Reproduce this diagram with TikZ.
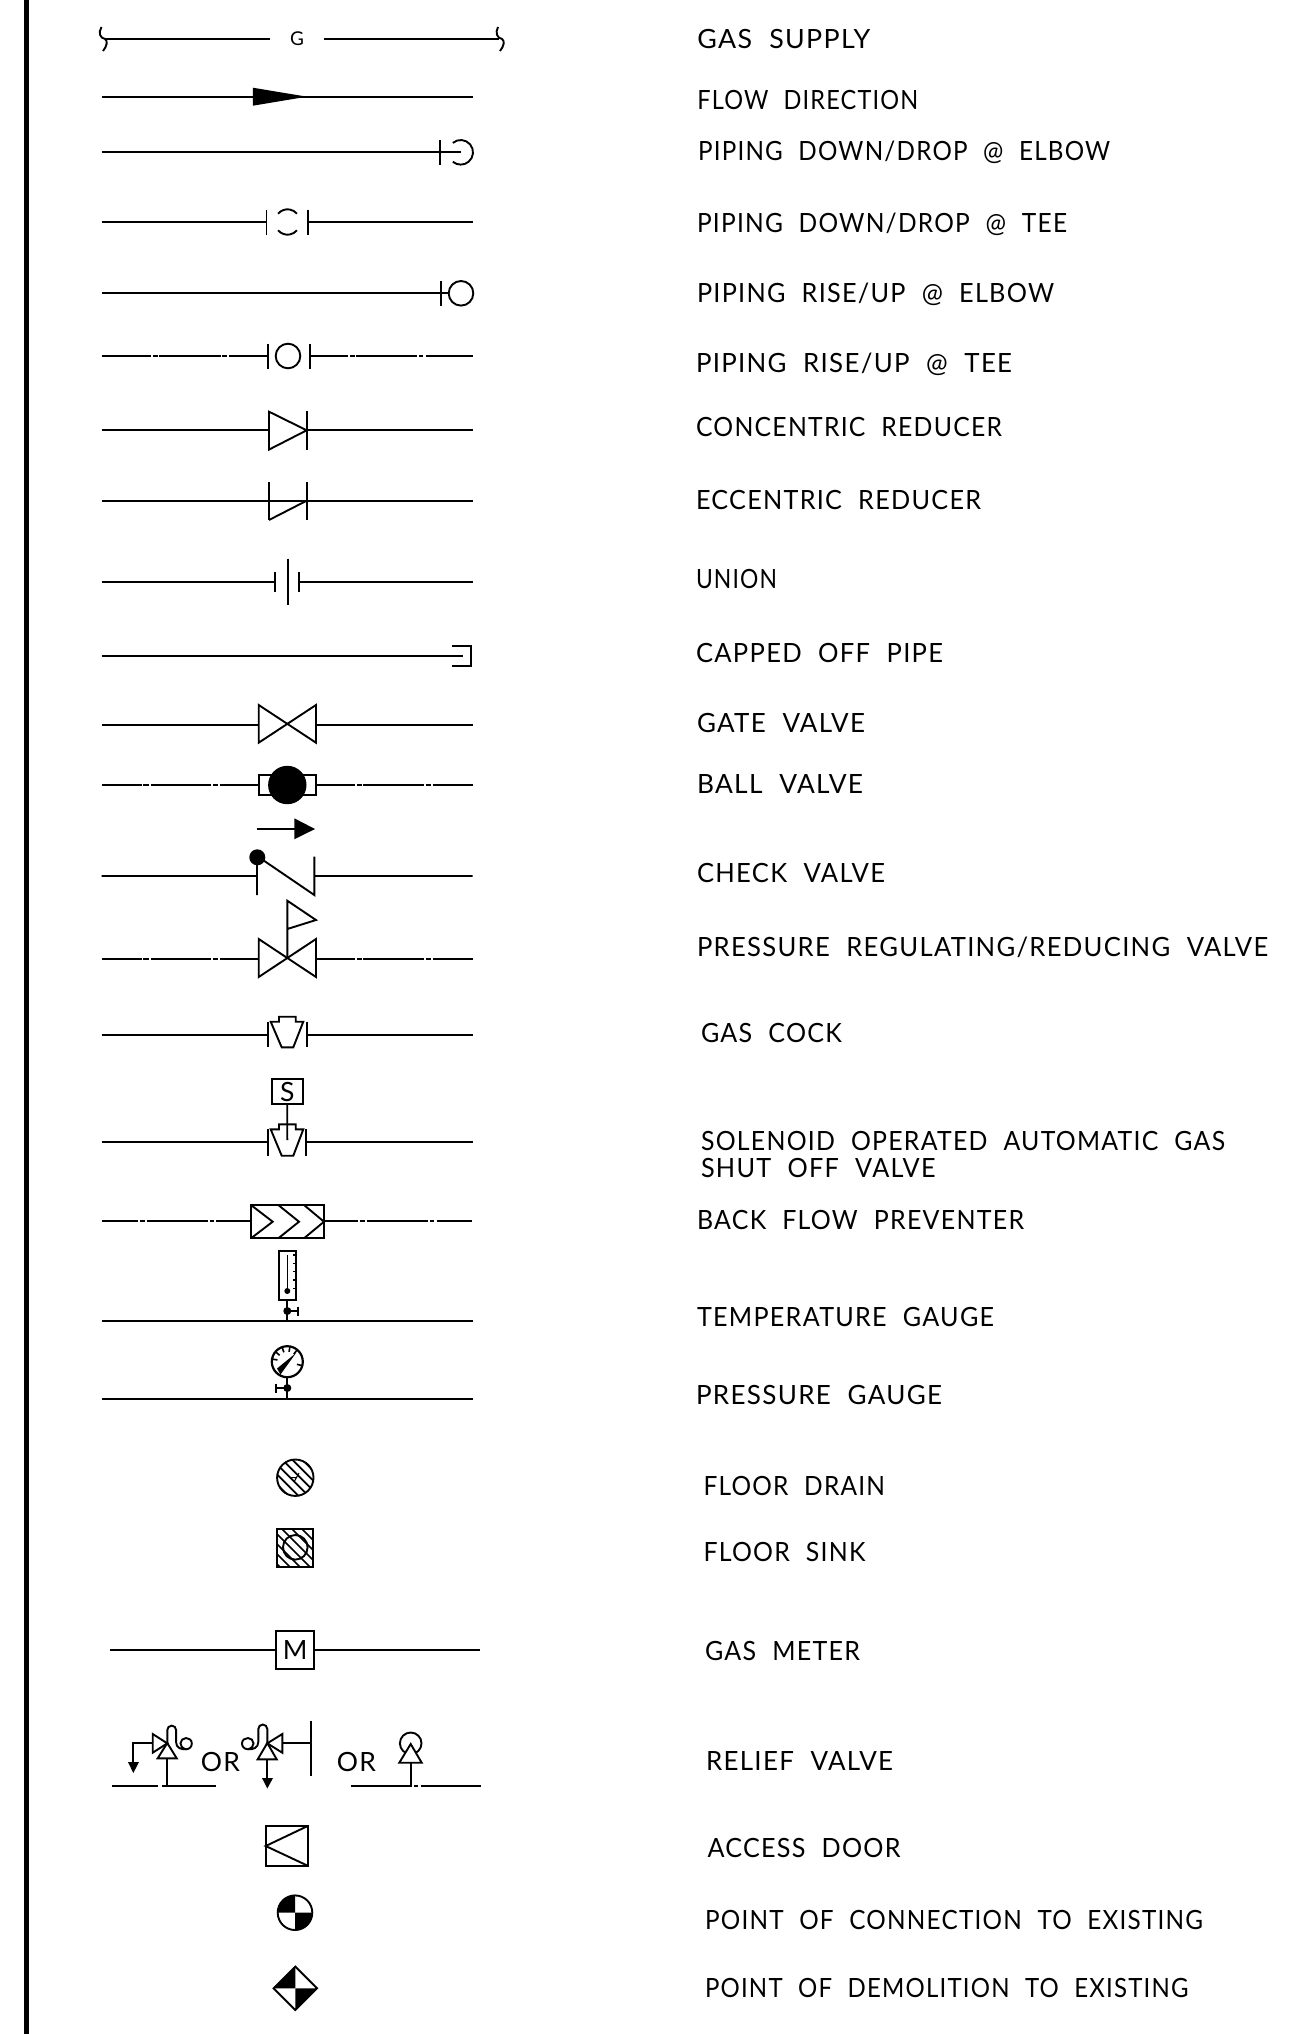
\documentclass[tikz,border=0pt]{standalone}
\usepackage{graphicx}
\usepackage{fontspec}
\setmainfont[WordSpace=2.1,LetterSpace=5]{Lato}
\tikzset{
  sym/.style={line width=1.9pt},
  lbl/.style={anchor=base west,inner sep=0pt,outer sep=0pt,font=\fontsize{26.5}{30}\selectfont},
  tag/.style={inner sep=0pt,outer sep=0pt,font=\fontsize{26.5}{30}\selectfont},
  blk/.style={fill=black,draw=none}
}
\newcommand{\lbl}[5]{\node[lbl] (#1) at (#2,#3) {\resizebox{#4pt}{\height}{#5}};}
\newcommand{\pipedash}[1]{%
  \draw[sym] (101.7,#1)--(141.7,#1) (143.3,#1)--(149,#1) (150.7,#1)--(211,#1) (212.7,#1)--(217.7,#1) (220,#1)--(258.7,#1)
   (316,#1)--(355,#1) (356.7,#1)--(361.7,#1) (363.3,#1)--(424,#1) (425.7,#1)--(430.7,#1) (432.7,#1)--(472.7,#1);}
\newcommand{\cock}[6]{% y, tick left, tick right, top, bottom, nub
  \draw[sym] (101.7,#1)--(#2,#1) (#3,#1)--(472.7,#1)
    (#2,#4)--(#2,#5) (#3,#4)--(#3,#5);
  \draw[sym,line join=miter] (270.7,#4)--(279,#4)--(279,#6)--(295.7,#6)--(295.7,#4)--(303.3,#4)--(293.3,#5)--(281.7,#5)--cycle;}
\begin{document}
\begin{tikzpicture}[x=1pt,y=-1pt]
\useasboundingbox (0,0) rectangle (1291,2034);
\fill[white] (0,0) rectangle (1291,2034);
% left border
\fill[black] (24,0) rectangle (29,2034);

% gas supply
\draw[sym] (101.5,27) .. controls (98,33) and (100,38) .. (105,39) .. controls (108,41) and (107,46) .. (103,51);
\draw[sym] (105,39) -- (270,39);
\node[tag,font=\fontsize{19}{22}\selectfont] (gG) at (297,39) {G};
\draw[sym] (324,39) -- (499,39);
\draw[sym] (498,27) .. controls (495,33) and (497,38) .. (502,39) .. controls (505,41) and (504,46) .. (500,51);

% flow direction
\draw[sym] (101.7,96.7) -- (472.7,96.7);
\fill[blk] (252.8,87.7) -- (307,96.7) -- (252.8,105.7) -- cycle;

% piping down elbow
\draw[sym] (101.7,152.3) -- (461,152.3) (439.7,140)--(439.7,165);
\draw[sym] (452.8,142.9) arc[start angle=130,end angle=-130,radius=12.3pt];

% piping down tee
\draw[sym] (101.7,222) -- (266.5,222) (308,222) -- (472.7,222) (266.5,209.5)--(266.5,234.5) (308,209.5)--(308,234.5);
\draw[sym] (278.1,213.7) arc[start angle=140,end angle=40,radius=12.3pt];
\draw[sym] (278.1,230.3) arc[start angle=220,end angle=320,radius=12.3pt];

% piping rise elbow
\draw[sym] (101.7,293.3) -- (449,293.3) (440.7,281)--(440.7,306);
\draw[sym] (461,293.3) circle[radius=12.3pt];

% piping rise tee
\draw[sym] (101.7,356)--(150.7,356) (153,356)--(157.6,356) (159.3,356)--(220.7,356) (222.4,356)--(226.9,356) (228.6,356)--(268,356)
  (309.6,356)--(348.3,356) (350,356)--(354.5,356) (355.9,356)--(417.2,356) (419,356)--(423.4,356) (425.9,356)--(472.7,356);
\draw[sym] (268,343.5)--(268,368.5) (309.6,343.5)--(309.6,368.5);
\draw[sym] (288,356) circle[radius=12.3pt];

% concentric reducer
\draw[sym] (101.7,430.3)--(269,430.3) (307,430.3)--(472.7,430.3) (307,411.3)--(307,449.6);
\draw[sym] (269,411.7)--(306.7,430.3)--(269,449.6)--cycle;

% eccentric reducer
\draw[sym] (101.7,500.7)--(472.7,500.7) (269,482)--(269,520) (306.7,482)--(306.7,520);
\draw[sym] (269,520)--(306.7,500.7);

% union
\draw[sym] (101.7,581.7)--(275,581.7) (275,572)--(275,591.5) (287.7,558.7)--(287.7,605) (299.3,572)--(299.3,591.5) (299.3,581.7)--(472.7,581.7);

% capped off pipe
\draw[sym] (101.7,656.3)--(463.3,656.3);
\draw[sym] (452.3,646)--(470.7,646)--(470.7,666)--(452.3,666);

% gate valve
\draw[sym] (101.7,724.7)--(258.7,724.7) (316,724.7)--(472.7,724.7);
\draw[sym] (258.7,705)--(316,742.7)--(316,705)--(258.7,742.7)--cycle;

% ball valve
\pipedash{785}
\draw[sym] (258.7,775) rectangle (316,794.7);
\fill[black] (287.3,785) circle[radius=19.2pt];

% check valve
\draw[sym] (256.7,829)--(296,829);
\fill[blk] (294.3,818.3)--(315,829)--(294.3,839.3)--cycle;
\draw[sym] (101.7,876)--(257,876) (314.3,876)--(472.7,876) (257,857)--(257,895) (314.3,856.7)--(314.3,895)--(260,858);
\fill[black] (257.3,857.3) circle[radius=8pt];

% pressure regulating valve
\pipedash{958.7}
\draw[sym] (258.7,939)--(316,977)--(316,939)--(258.7,977)--cycle;
\draw[sym] (287.3,958)--(287.3,900.7)--(316,920)--(287.3,929);

% gas cock
\cock{1034.7}{268.3}{306.7}{1021.7}{1047.3}{1016.7}

% solenoid valve
\node[draw,sym,tag,minimum width=31pt,minimum height=25pt] (sbox) at (287.2,1091.5) {S};
\coordinate (sstem) at (287.3,1140);
\cock{1142.3}{267.7}{306}{1129.3}{1155.7}{1124.3}
\draw[sym] (sbox.south) -- (sstem);

% back flow preventer
\draw[sym] (101.7,1221.3)--(138.3,1221.3) (140,1221.3)--(145,1221.3) (146.7,1221.3)--(208.3,1221.3) (210,1221.3)--(214.3,1221.3) (216,1221.3)--(251,1221.3)
 (324,1221.3)--(358.3,1221.3) (360,1221.3)--(365,1221.3) (366.7,1221.3)--(428.3,1221.3) (430,1221.3)--(434.3,1221.3) (436.7,1221.3)--(471.7,1221.3);
\draw[sym] (251,1205) rectangle (324,1238.3);
\draw[sym] (251,1205)--(272.7,1221.7)--(251,1238.3) (278.3,1205)--(299,1221.7)--(278.3,1238.3) (304,1205)--(324,1221.7)--(304,1238.3);

% temperature gauge
\draw[sym] (279,1251) rectangle (295.7,1300);
\draw[line width=1.5pt] (287.3,1255)--(287.3,1291);
\fill[black] (287.3,1291) circle[radius=3pt];
\foreach \ty in {1255,1263.3,1271.7,1280,1288.3} \draw[line width=1.4pt] (293,\ty)--(295.7,\ty);
\draw[sym] (287.3,1300)--(287.3,1321) (287.3,1311)--(298.3,1311) (298.3,1306.5)--(298.3,1315.5);
\fill[black] (287.3,1311) circle[radius=4pt];
\draw[sym] (101.7,1321)--(472.7,1321);

% pressure gauge
\draw[line width=2.2pt] (287.3,1361.7) circle[radius=15.5pt];
\foreach \ga in {-170,-140,-110,-80,-50,15} \draw[line width=1.6pt] (287.3,1361.7) ++(\ga:10) -- ++(\ga:5);
\fill[black] (296,1353) -- (277,1368.5) -- (280.5,1374.5) -- cycle;
\draw[sym] (287.3,1377)--(287.3,1398.7) (287.3,1388)--(276,1388) (276,1383.5)--(276,1392.5);
\fill[black] (287.3,1388) circle[radius=4pt];
\draw[sym] (101.7,1398.7)--(472.7,1398.7);

% floor drain
\begin{scope}
\clip (295.3,1477.7) circle[radius=18.7pt];
\foreach \hd in {-35,-25,...,35} \draw[line width=1.7pt] (295.3+\hd-30,1477.7-30)--(295.3+\hd+30,1477.7+30);
\end{scope}
\draw[sym] (295.3,1477.7) circle[radius=18.2pt];
\draw[line width=1pt] (290,1477.7)--(297,1477.7) (299,1473)--(294,1482);

% floor sink
\begin{scope}
\clip (276.7,1529.3) rectangle (313.3,1566.7);
\foreach \hd in {-35,-25,...,35} \draw[line width=1.7pt] (295.3+\hd-30,1547.3-30)--(295.3+\hd+30,1547.3+30);
\end{scope}
\draw[sym] (276.7,1529.3) rectangle (313.3,1566.7);
\draw[sym] (295.3,1547.3) circle[radius=12.3pt];

% gas meter
\node[draw,sym,tag,minimum width=37.6pt,minimum height=37.6pt] (mbox) at (295.2,1650) {M};
\coordinate (mL) at (110.3,1650);
\coordinate (mR) at (480,1650);
\draw[sym] (mL) -- (mbox) -- (mR);

% relief valve 1
\draw[sym] (111.7,1786)--(158.3,1786) (161.7,1786)--(216,1786) (167,1786)--(167,1758.3);
\draw[sym] (157.7,1758.3)--(176.7,1758.3)--(167.3,1743)--cycle;
\draw[sym] (152.7,1734)--(152.7,1752.7)--(167.3,1743.3)--cycle;
\draw[sym] (152.7,1743.3)--(133.3,1743.3)--(133.3,1762);
\fill[blk] (128,1762)--(139,1762)--(133.3,1773)--cycle;
\draw[sym] (167.3,1743)--(167.3,1730) arc[start angle=180,end angle=0,radius=4.4pt] -- (176.1,1742) .. controls (176.1,1748) and (181,1749.5) .. (186,1749.3) .. controls (190,1749) and (191.8,1746.5) .. (191.8,1743.3) .. controls (191.8,1740) and (189,1738) .. (186,1738) .. controls (183,1738) and (180.5,1740.5) .. (180.5,1743.3) .. controls (180.5,1746) and (182,1748) .. (186,1749.3);
\node[tag] (or1) at (220.5,1761.5) {OR};

% relief valve 2
\draw[sym] (311,1720.7)--(311,1776) (311,1743.3)--(282.3,1743.3);
\draw[sym] (282.3,1734)--(282.3,1752.7)--(267.3,1743.3)--cycle;
\draw[sym] (257.7,1759.3)--(276.7,1759.3)--(267.3,1743)--cycle;
\draw[sym] (267.3,1759.3)--(267.3,1778);
\fill[blk] (262,1778)--(273,1778)--(267.3,1788.5)--cycle;
\draw[sym] (267.3,1743)--(267.3,1729) arc[start angle=0,end angle=180,radius=4.5pt] -- (258.3,1742) .. controls (258.3,1748) and (253,1749.5) .. (248,1749.3) .. controls (244,1749) and (242,1746.5) .. (242,1743.3) .. controls (242,1740) and (245,1738) .. (248,1738) .. controls (251,1738) and (253.5,1740.5) .. (253.5,1743.3) .. controls (253.5,1746) and (252,1748) .. (248,1749.3);
\node[tag] (or2) at (356.5,1761.5) {OR};

% relief valve 3
\draw[sym] (350.7,1786)--(411.7,1786) (414,1786)--(418.3,1786) (420.7,1786)--(480.7,1786) (410.7,1786)--(410.7,1762.7);
\draw[sym] (410.7,1743.3) circle[radius=10.8pt];
\draw[sym,fill=white] (399.3,1762.7)--(421.7,1762.7)--(410.7,1744)--cycle;

% access door
\draw[sym] (265.7,1826) rectangle (307.7,1865.7);
\draw[sym] (307.7,1826)--(265.7,1846)--(307.7,1865.7);

% point of connection
\fill[black] (295,1912.7)--(277.7,1912.7) arc[start angle=180,end angle=90,radius=17.3pt]--cycle;
\fill[black] (295,1912.7)--(312.3,1912.7) arc[start angle=0,end angle=-90,radius=17.3pt]--cycle;
\draw[sym] (295,1912.7) circle[radius=17.3pt];

% point of demolition
\fill[black] (295.3,1988.3)--(273.6,1988.3)--(295.3,1966.6)--cycle;
\fill[black] (295.3,1988.3)--(317,1988.3)--(295.3,2010)--cycle;
\draw[sym] (273.6,1988.3)--(295.3,1966.6)--(317,1988.3)--(295.3,2010)--cycle;

% labels
\lbl{t1}{697.3}{48.4}{173}{GAS SUPPLY}
\lbl{t2}{697.3}{109}{221}{FLOW DIRECTION}
\lbl{t3}{698}{160}{412}{PIPING DOWN/DROP @ ELBOW}
\lbl{t4}{697}{232.7}{370}{PIPING DOWN/DROP @ TEE}
\lbl{t5}{697}{302.7}{357}{PIPING RISE/UP @ ELBOW}
\lbl{t6}{696}{372.8}{316}{PIPING RISE/UP @ TEE}
\lbl{t7}{696}{436.4}{306}{CONCENTRIC REDUCER}
\lbl{t8}{696}{509}{285}{ECCENTRIC REDUCER}
\lbl{t9}{696}{588.2}{81}{UNION}
\lbl{t10}{696}{662.1}{247}{CAPPED OFF PIPE}
\lbl{t11}{697}{732.2}{168}{GATE VALVE}
\lbl{t12}{697}{793.2}{166}{BALL VALVE}
\lbl{t13}{697}{882.7}{188}{CHECK VALVE}
\lbl{t14}{697}{956.7}{571}{PRESSURE REGULATING/REDUCING VALVE}
\lbl{t15}{701}{1042.3}{141}{GAS COCK}
\lbl{t16}{701}{1150}{524}{SOLENOID OPERATED AUTOMATIC GAS}
\lbl{t17}{701}{1177.3}{234.5}{SHUT OFF VALVE}
\lbl{t18}{697}{1229.2}{327}{BACK FLOW PREVENTER}
\lbl{t19}{697}{1326.4}{297}{TEMPERATURE GAUGE}
\lbl{t20}{696}{1404.3}{246}{PRESSURE GAUGE}
\lbl{t21}{703.5}{1495.1}{181.5}{FLOOR DRAIN}
\lbl{t22}{703.5}{1561.3}{162}{FLOOR SINK}
\lbl{t23}{705}{1660}{155}{GAS METER}
\lbl{t24}{706}{1770.2}{187}{RELIEF VALVE}
\lbl{t25}{707.5}{1857.1}{193}{ACCESS DOOR}
\lbl{t26}{705}{1929.8}{498}{POINT OF CONNECTION TO EXISTING}
\lbl{t27}{705}{1997.2}{483.5}{POINT OF DEMOLITION TO EXISTING}
\end{tikzpicture}
\end{document}
